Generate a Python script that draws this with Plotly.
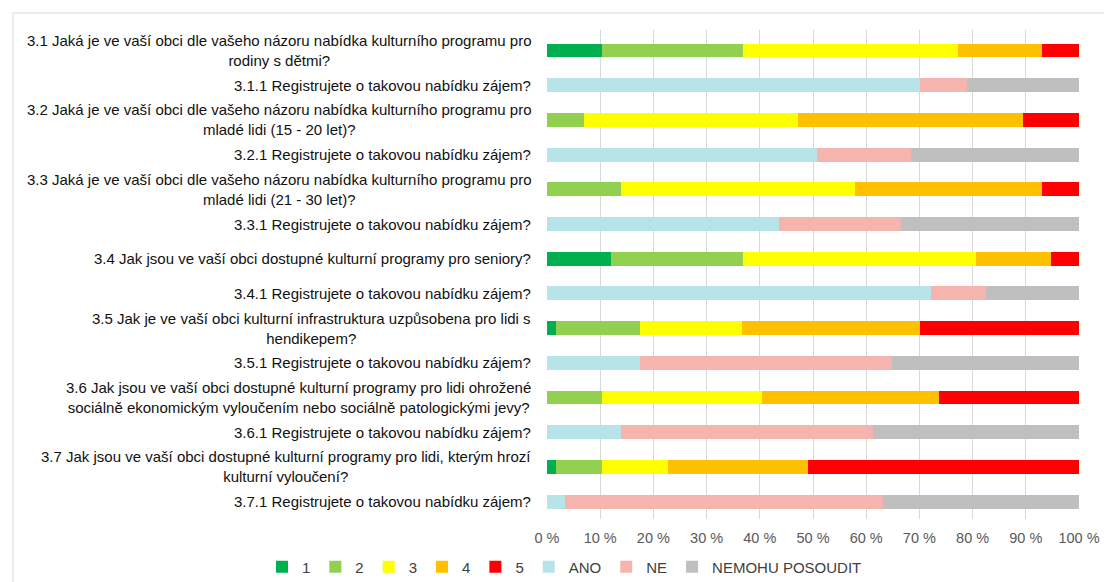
import plotly.graph_objects as go

categories = [
    "3.1 Jaká je ve vaší obci dle vašeho názoru nabídka kulturního programu pro<br>rodiny s dětmi?",
    "3.1.1 Registrujete o takovou nabídku zájem?",
    "3.2 Jaká je ve vaší obci dle vašeho názoru nabídka kulturního programu pro<br>mladé lidi (15 - 20 let)?",
    "3.2.1 Registrujete o takovou nabídku zájem?",
    "3.3 Jaká je ve vaší obci dle vašeho názoru nabídka kulturního programu pro<br>mladé lidi (21 - 30 let)?",
    "3.3.1 Registrujete o takovou nabídku zájem?",
    "3.4 Jak jsou ve vaší obci dostupné kulturní programy pro seniory?",
    "3.4.1 Registrujete o takovou nabídku zájem?",
    "3.5 Jak je ve vaší obci kulturní infrastruktura uzpůsobena pro lidi s<br>hendikepem?",
    "3.5.1 Registrujete o takovou nabídku zájem?",
    "3.6 Jak jsou ve vaší obci dostupné kulturní programy pro lidi ohrožené<br>sociálně ekonomickým vyloučením nebo sociálně patologickými jevy?",
    "3.6.1 Registrujete o takovou nabídku zájem?",
    "3.7 Jak jsou ve vaší obci dostupné kulturní programy pro lidi, kterým hrozí<br>kulturní vyloučení?",
    "3.7.1 Registrujete o takovou nabídku zájem?",
]

# percentages per category (0 where the answer option does not apply)
s1 = [10.4, 0, 0, 0, 0, 0, 12.1, 0, 1.7, 0, 0, 0, 1.7, 0]
s2 = [26.4, 0, 6.9, 0, 14.0, 0, 24.7, 0, 15.8, 0, 10.4, 0, 8.7, 0]
s3 = [40.4, 0, 40.3, 0, 43.8, 0, 43.9, 0, 19.2, 0, 30.0, 0, 12.3, 0]
s4 = [15.8, 0, 42.2, 0, 35.2, 0, 14.1, 0, 33.4, 0, 33.2, 0, 26.4, 0]
s5 = [7.0, 0, 10.6, 0, 7.0, 0, 5.2, 0, 29.9, 0, 26.4, 0, 50.9, 0]
ano = [0, 70.2, 0, 50.8, 0, 43.7, 0, 72.1, 0, 17.5, 0, 14.0, 0, 3.4]
ne = [0, 8.8, 0, 17.7, 0, 22.9, 0, 10.4, 0, 47.4, 0, 47.3, 0, 59.7]
nemohu = [0, 21.0, 0, 31.5, 0, 33.4, 0, 17.5, 0, 35.1, 0, 38.7, 0, 36.9]

series_names = ["1", "2", "3", "4", "5", "ANO", "NE", "NEMOHU POSOUDIT"]
series_values = [s1, s2, s3, s4, s5, ano, ne, nemohu]
series_colors = ["#00B050", "#92D050", "#FFFF00", "#FFC000", "#FF0000",
                 "#B7E4E8", "#F6B4AF", "#BFBFBF"]

x_ticks = list(range(0, 101, 10))
x_tick_labels = [f"{v} %" for v in x_ticks]

FONT = "Liberation Sans, Arial, sans-serif"

fig = go.Figure()
for name, vals, col in zip(series_names, series_values, series_colors):
    fig.add_trace(go.Bar(
        y=categories, x=vals, name=name, orientation="h",
        marker=dict(color=col, line=dict(width=0)),
    ))

annotations = []
for c in categories:
    annotations.append(dict(
        xref="paper", yref="y", x=-0.026, y=c, text=c,
        xanchor="right", yanchor="middle", align="center", showarrow=False,
        font=dict(family=FONT, size=15, color="#111111"),
    ))

# light frame lines (top and left border of the chart area)
W, H, L, R, T, B = 1104, 582, 547, 25, 30, 63
pw = W - L - R
ph = H - T - B
def px2x(px):
    return (px - L) / pw
def px2y(py):
    return (H - B - py) / ph

shapes = [
    dict(type="line", xref="paper", yref="paper", x0=px2x(13), x1=px2x(W + 5),
         y0=px2y(13), y1=px2y(13), line=dict(color="#D9D9D9", width=1)),
    dict(type="line", xref="paper", yref="paper", x0=px2x(13), x1=px2x(13),
         y0=px2y(13), y1=px2y(H + 5), line=dict(color="#D9D9D9", width=1)),
]

fig.update_layout(
    width=W, height=H,
    margin=dict(l=L, r=R, t=T, b=B, autoexpand=False),
    barmode="stack", bargap=0.6,
    plot_bgcolor="white", paper_bgcolor="white",
    font=dict(family=FONT, size=14.5, color="#595959"),
    xaxis=dict(range=[0, 100], tickmode="array", tickvals=x_ticks, ticktext=x_tick_labels,
               showgrid=True, gridcolor="#D9D9D9", gridwidth=1, automargin=False,
               zeroline=False, showline=False,
               ticks="outside", ticklen=6, tickcolor="rgba(0,0,0,0)",
               tickfont=dict(family=FONT, size=14.5, color="#595959")),
    yaxis=dict(autorange="reversed", showticklabels=False, showgrid=False,
               automargin=False, zeroline=False, showline=False, ticks=""),
    legend=dict(orientation="h", x=px2x(262), xanchor="left",
                y=px2y(567), yanchor="middle",
                font=dict(family=FONT, size=15, color="#404040"),
                itemwidth=30, traceorder="normal", bgcolor="rgba(0,0,0,0)"),
    annotations=annotations, shapes=shapes,
    showlegend=True,
)

fig.write_html("out.html", config={"displayModeBar": False},
               post_script="document.body.style.margin='0';")
